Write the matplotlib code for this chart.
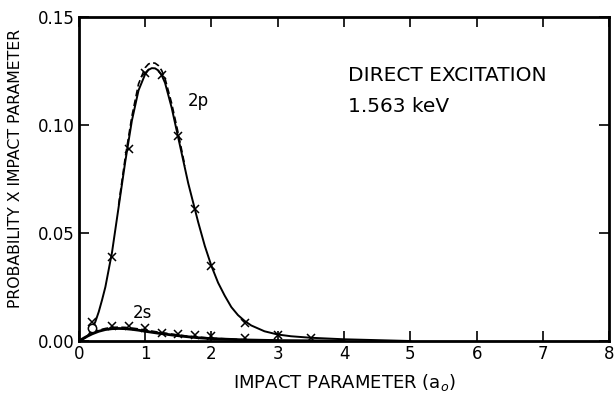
import numpy as np
import matplotlib.pyplot as plt

# 2p curves
x_2p = [0, 0.1, 0.15, 0.2, 0.25, 0.3, 0.35, 0.4, 0.5, 0.6, 0.7, 0.8, 0.9, 1.0,
        1.05, 1.1, 1.15, 1.2, 1.25, 1.3, 1.4, 1.5, 1.6, 1.65, 1.7, 1.8, 1.9,
        2.0, 2.1, 2.2, 2.3, 2.4, 2.5, 2.6, 2.8, 3.0, 3.2, 3.5, 4.0, 4.5, 5.0]
y_2p = [0, 0.0015, 0.003, 0.0055, 0.009, 0.0135, 0.019, 0.025, 0.041, 0.062,
        0.083, 0.102, 0.116, 0.1235, 0.1255, 0.1263, 0.1262, 0.1252, 0.123,
        0.1195, 0.108, 0.094, 0.080, 0.073, 0.067, 0.055, 0.044, 0.0347, 0.027,
        0.021, 0.0157, 0.012, 0.0093, 0.0072, 0.0045, 0.003, 0.0022, 0.0015,
        0.0008, 0.0004, 0.0]
x_2p_dash = [0.6, 0.7, 0.8, 0.9, 1.0, 1.05, 1.1, 1.15, 1.2, 1.25, 1.3, 1.4, 1.5, 1.6]
y_2p_dash = [0.063, 0.085, 0.104, 0.119, 0.1265, 0.1282, 0.1288, 0.1286, 0.1275,
             0.1252, 0.1215, 0.110, 0.096, 0.081]
x_2p_pts = [0.2, 0.5, 0.75, 1.0, 1.25, 1.5, 1.75, 2.0, 2.5, 3.0, 3.5]
y_2p_pts = [0.0088, 0.039, 0.089, 0.124, 0.123, 0.095, 0.061, 0.0347, 0.0083,
            0.0028, 0.0015]

# 2s curves
x_2s = [0, 0.1, 0.2, 0.3, 0.4, 0.5, 0.6, 0.7, 0.8, 0.9, 1.0, 1.2, 1.4, 1.6,
        1.8, 2.0, 2.5, 3.0, 3.5, 4.0]
y_2s = [0, 0.0018, 0.0033, 0.0045, 0.0053, 0.0057, 0.0058, 0.0057, 0.0054,
        0.005, 0.0045, 0.0036, 0.0028, 0.0021, 0.0015, 0.0011, 0.0005, 0.0002,
        0.0001, 0.0]
x_2s_dash = [0.2, 0.3, 0.4, 0.5, 0.6, 0.7, 0.8, 0.9, 1.0, 1.2, 1.4, 1.6, 1.8,
             2.0, 2.5, 3.0]
y_2s_dash = [0.0038, 0.005, 0.0058, 0.0063, 0.0064, 0.0063, 0.006, 0.0056,
             0.0051, 0.0041, 0.0032, 0.0024, 0.0018, 0.0013, 0.0006, 0.0002]
x_2s_pts = [0.5, 0.75, 1.0, 1.25, 1.5, 1.75, 2.0, 2.5]
y_2s_pts = [0.007, 0.007, 0.006, 0.0037, 0.0032, 0.0027, 0.0025, 0.0015]
x_2s_circ = [0.2]
y_2s_circ = [0.006]

fig = plt.figure(figsize=(6.16, 3.94), dpi=100)
ax = fig.add_axes([0.128, 0.1345, 0.861, 0.8225])

ax.plot(x_2p, y_2p, color="black", lw=1.4)
ax.plot(x_2p_dash, y_2p_dash, color="black", lw=1.2, ls=(0, (4, 2)))
ax.plot(x_2p_pts, y_2p_pts, "x", color="black", ms=6, mew=1.1)

ax.plot(x_2s, y_2s, color="black", lw=2)
ax.plot(x_2s_dash, y_2s_dash, color="black", lw=1.2, ls=(0, (4, 2)))
ax.plot(x_2s_pts, y_2s_pts, "x", color="black", ms=6, mew=1.1)
ax.plot(x_2s_circ, y_2s_circ, "o", mfc="white", mec="black", ms=6, mew=1.1)

ax.set_xlim(0, 8)
ax.set_ylim(0, 0.15)
ax.set_xticks(range(0, 9))
ax.set_yticks([0, 0.05, 0.10, 0.15])
ax.set_yticklabels(["0.00", "0.05", "0.10", "0.15"])
ax.tick_params(direction="in", top=True, right=True, length=7, width=1.2,
               labelsize=12, pad=3)
for s in ax.spines.values():
    s.set_linewidth(2)

ax.set_xlabel("IMPACT PARAMETER (a$_o$)", fontsize=13, labelpad=6)
ax.set_ylabel("PROBABILITY X IMPACT PARAMETER", fontsize=11.3)
ax.yaxis.set_label_coords(-0.106, 0.531)

ax.text(4.06, 0.1204, "DIRECT EXCITATION", fontsize=14.5)
ax.text(4.06, 0.1060, "1.563 keV", fontsize=14.5)
ax.text(1.65, 0.109, "2p", fontsize=12)
ax.text(0.82, 0.0106, "2s", fontsize=12)

plt.savefig("out.png", dpi=100)
